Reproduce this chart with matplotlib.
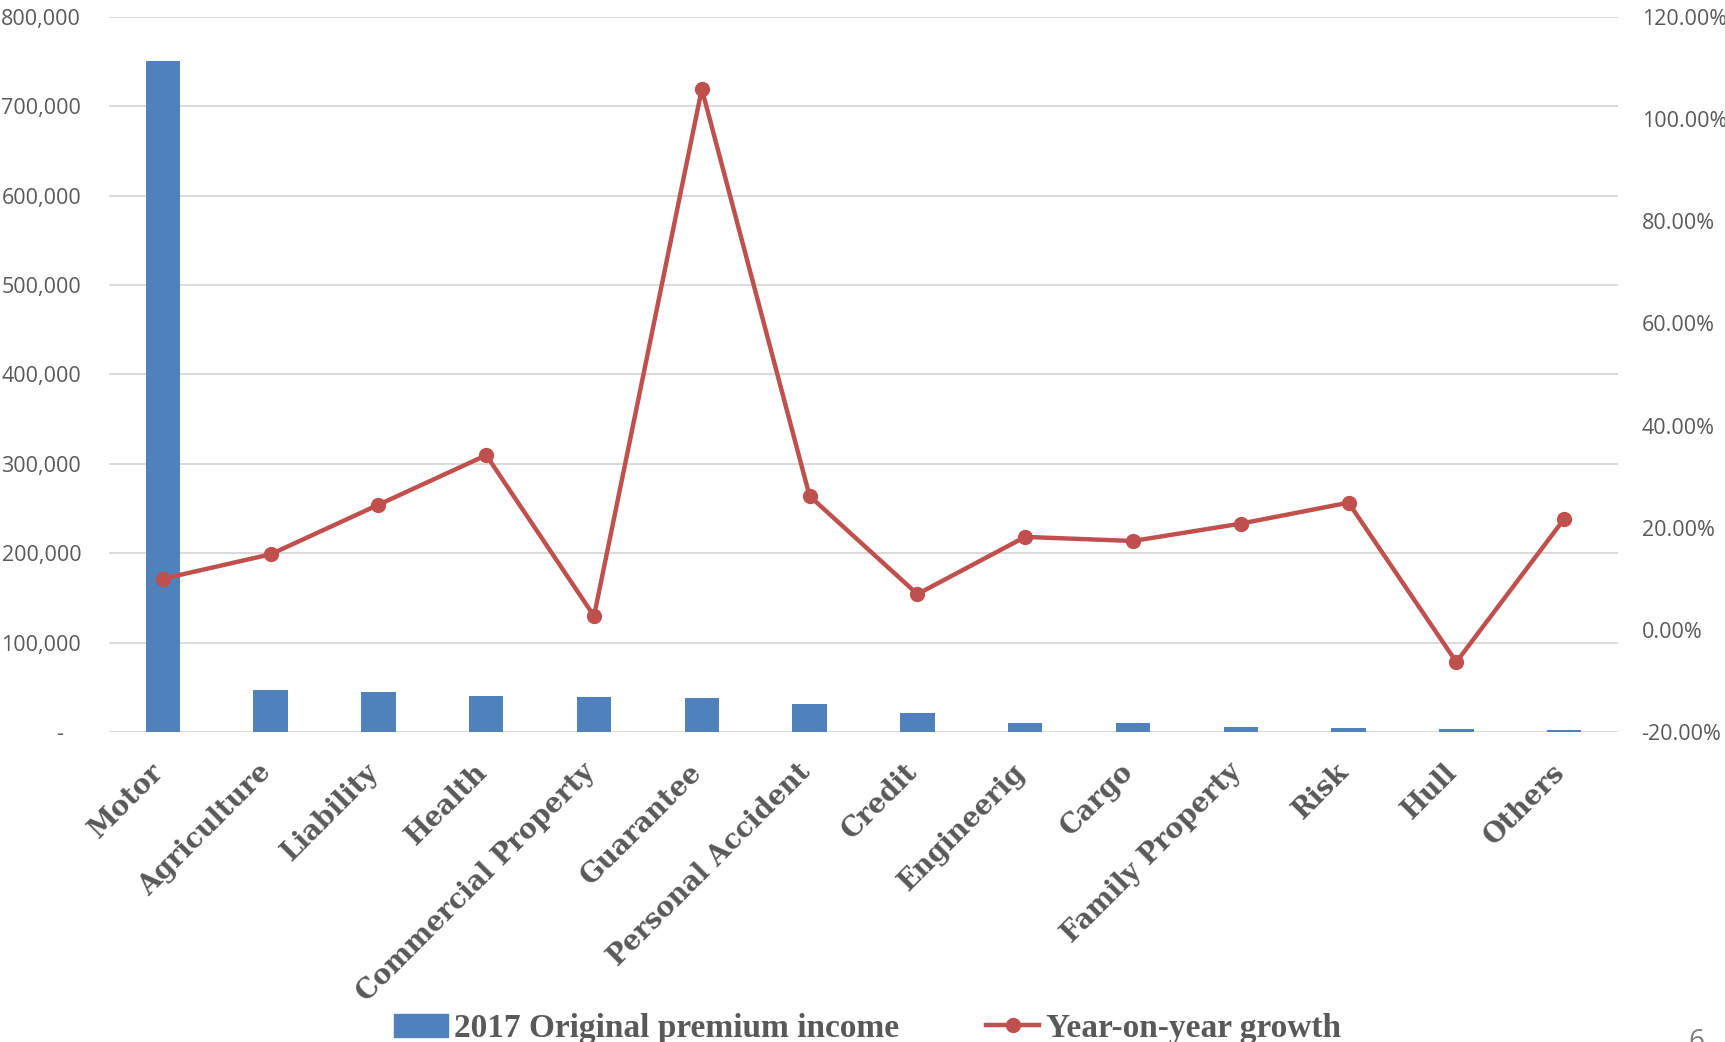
import matplotlib.pyplot as plt
from matplotlib.ticker import FuncFormatter, MultipleLocator
from matplotlib.patches import Patch
from matplotlib.lines import Line2D
from matplotlib.transforms import ScaledTranslation

categories = ["Motor", "Agriculture", "Liability", "Health", "Commercial Property",
              "Guarantee", "Personal Accident", "Credit", "Engineerig", "Cargo",
              "Family Property", "Risk", "Hull", "Others"]
premium_income = [751000, 47400, 44900, 40000, 38800, 37500, 31400, 21500,
                  10400, 9700, 5600, 4500, 3700, 2200]
yoy_growth = [0.100, 0.148, 0.245, 0.342, 0.027, 1.059, 0.262, 0.070,
              0.182, 0.174, 0.208, 0.249, -0.063, 0.217]

bar_color = "#4F81BD"
line_color = "#C0504D"
text_color = "#595959"

fig = plt.figure(figsize=(17.25, 10.42), dpi=100)
ax = fig.add_axes([109 / 1725, 1 - 732 / 1042, 1509 / 1725, 715 / 1042])
ax2 = ax.twinx()

x = list(range(len(categories)))
ax.bar(x, premium_income, width=0.32, color=bar_color, zorder=2)
ax2.plot(x, yoy_growth, color=line_color, lw=3.2, marker="o", ms=10, zorder=3)

ax.set_xlim(-0.5, len(categories) - 0.5)
ax.set_ylim(0, 800000)
ax.yaxis.set_major_locator(MultipleLocator(100000))
ax.yaxis.set_major_formatter(FuncFormatter(lambda v, p: "-   " if v == 0 else f"{v:,.0f}"))
ax.grid(axis="y", color="#d9d9d9", lw=1.4, zorder=0)
ax.set_axisbelow(True)

ax2.set_ylim(-0.2, 1.2)
ax2.set_yticks([-0.2, 0.0, 0.2, 0.4, 0.6, 0.8, 1.0, 1.2])
ax2.yaxis.set_major_formatter(FuncFormatter(lambda v, p: f"{v:.2%}"))

for a in (ax, ax2):
    for s in a.spines.values():
        s.set_visible(False)
    a.tick_params(length=0, labelsize=15.5, labelcolor=text_color)
    for lab in a.get_yticklabels():
        lab.set_family("Open Sans")
ax.tick_params(axis="y", pad=20)
ax2.tick_params(axis="y", pad=17)

ax.set_xticks(x)
ax.set_xticklabels(categories, rotation=45, ha="right", va="top",
                   fontfamily="DejaVu Serif", fontweight="bold", fontsize=19.5,
                   color=text_color)
ax.tick_params(axis="x", pad=19)
# nudge the slanted names a little to the right of each tick
shift = ScaledTranslation(6 / 100, 0, fig.dpi_scale_trans)
for lab in ax.get_xticklabels():
    lab.set_transform(lab.get_transform() + shift)

handles = [Patch(color=bar_color),
           Line2D([], [], color=line_color, lw=3.2, marker="o", ms=10)]
fig.legend(handles, ["2017 Original premium income", "Year-on-year growth"],
           loc="center", bbox_to_anchor=(0.503, 0.013), ncol=2, frameon=False,
           handlelength=1.6, handletextpad=0.2, columnspacing=2.6,
           prop={"family": "Liberation Serif", "weight": "bold", "size": 24},
           labelcolor=text_color)

fig.text(1688 / 1725, 1 - 1028 / 1042, "6", fontsize=20, color="#7f7f7f",
         va="top", ha="left", fontfamily="Open Sans")

fig.savefig("out.png", dpi=100)
